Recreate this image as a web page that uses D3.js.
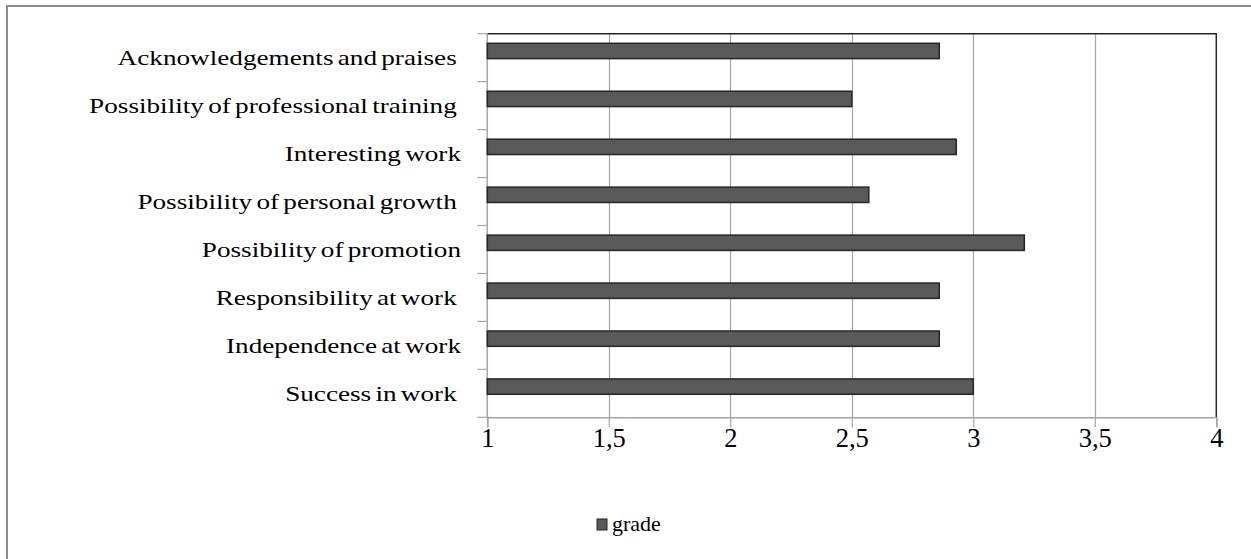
<!DOCTYPE html>
<html>
<head>
<meta charset="utf-8">
<script src="https://cdn.jsdelivr.net/npm/d3@7/dist/d3.min.js"></script>
<style>
  html, body { margin: 0; padding: 0; background: #fff; }
  svg { display: block; }
  text { font-family: "Liberation Serif", "Times New Roman", Times, serif; fill: #000; }
</style>
</head>
<body>
<svg id="chart" width="1251" height="559"></svg>
<script>
// Motivation factors, top to bottom
const categories = [
  "Acknowledgements and praises ",
  "Possibility of professional training ",
  "Interesting work",
  "Possibility of personal growth ",
  "Possibility of promotion",
  "Responsibility at work ",
  "Independence at work",
  "Success in work "
];
// Average grade per factor
const grades = [2.86, 2.5, 2.93, 2.57, 3.21, 2.86, 2.86, 3.0];
const xTicks = [1, 1.5, 2, 2.5, 3, 3.5, 4];
const seriesName = "grade";

const W = 1251, H = 559;
const plot = { left: 487.3, right: 1216.3, top: 33.7, bottom: 417.3 };
const stretch = 1.265; // glyphs are drawn slightly wide

const svg = d3.select("#chart");

// outer frame
svg.append("rect")
  .attr("x", 7).attr("y", 6)
  .attr("width", W + 10).attr("height", H + 10)
  .attr("fill", "#fff").attr("stroke", "#8c8c8c").attr("stroke-width", 2);

const x = d3.scaleLinear().domain([1, 4]).range([plot.left, plot.right]);
const y = d3.scaleBand().domain(categories).range([plot.top, plot.bottom]).padding(0);
const bw = y.bandwidth();

// vertical gridlines
svg.append("g").selectAll("line")
  .data(xTicks.filter(t => t > 1 && t < 4))
  .join("line")
  .attr("x1", d => Math.round(x(d)) + 0.5).attr("x2", d => Math.round(x(d)) + 0.5)
  .attr("y1", plot.top).attr("y2", plot.bottom)
  .attr("stroke", "#a6a6a6").attr("stroke-width", 1.2);

// plot frame: top and right edges
svg.append("path")
  .attr("d", `M${plot.left},${plot.top}H${x(4)}V${plot.bottom}`)
  .attr("fill", "none").attr("stroke", "#262626").attr("stroke-width", 1.5);

// bottom axis
const xAxis = d3.axisBottom(x)
  .tickValues(xTicks)
  .tickSize(10)
  .tickPadding(1)
  .tickFormat(d => String(d).replace(".", ","));
const gx = svg.append("g")
  .attr("transform", `translate(0,${plot.bottom})`)
  .call(xAxis);
gx.select(".domain").attr("stroke", "#a6a6a6").attr("stroke-width", 1.5);
gx.selectAll(".tick line").attr("stroke", "#a6a6a6").attr("stroke-width", 1.2);
gx.selectAll(".tick text")
  .attr("font-size", 26.5)
  .attr("fill", "#000");

// left axis: ticks at category boundaries
const gy = svg.append("g");
gy.append("line")
  .attr("x1", plot.left).attr("x2", plot.left)
  .attr("y1", plot.top).attr("y2", plot.bottom)
  .attr("stroke", "#a6a6a6").attr("stroke-width", 1.5);
gy.selectAll("line.tk")
  .data(d3.range(categories.length + 1))
  .join("line")
  .attr("class", "tk")
  .attr("x1", plot.left - 10).attr("x2", plot.left)
  .attr("y1", i => plot.top + i * bw).attr("y2", i => plot.top + i * bw)
  .attr("stroke", "#a6a6a6").attr("stroke-width", 1.2);

// category labels
const labelX = 461;
gy.selectAll("text")
  .data(categories)
  .join("text")
  .attr("transform", d => `translate(${labelX},${y(d) + bw / 2}) scale(${stretch},1)`)
  .attr("dy", "0.36em")
  .attr("text-anchor", "end")
  .attr("font-size", 21.5)
  .attr("word-spacing", -2)
  .style("white-space", "pre")
  .text(d => d);

// bars (sit in the upper part of each band)
svg.append("g").selectAll("rect")
  .data(categories)
  .join("rect")
  .attr("x", x(1))
  .attr("y", d => y(d) + bw * 0.2)
  .attr("width", (d, i) => x(grades[i]) - x(1))
  .attr("height", bw * 0.32)
  .attr("fill", "#595959")
  .attr("stroke", "#262626")
  .attr("stroke-width", 1.5);

// legend
const lg = svg.append("g").attr("transform", "translate(597,519)");
lg.append("rect")
  .attr("width", 10).attr("height", 11)
  .attr("fill", "#595959").attr("stroke", "#262626").attr("stroke-width", 1);
lg.append("text")
  .attr("transform", `translate(15,12)`)
  .attr("font-size", 22)
  .text(seriesName);
</script>
</body>
</html>
